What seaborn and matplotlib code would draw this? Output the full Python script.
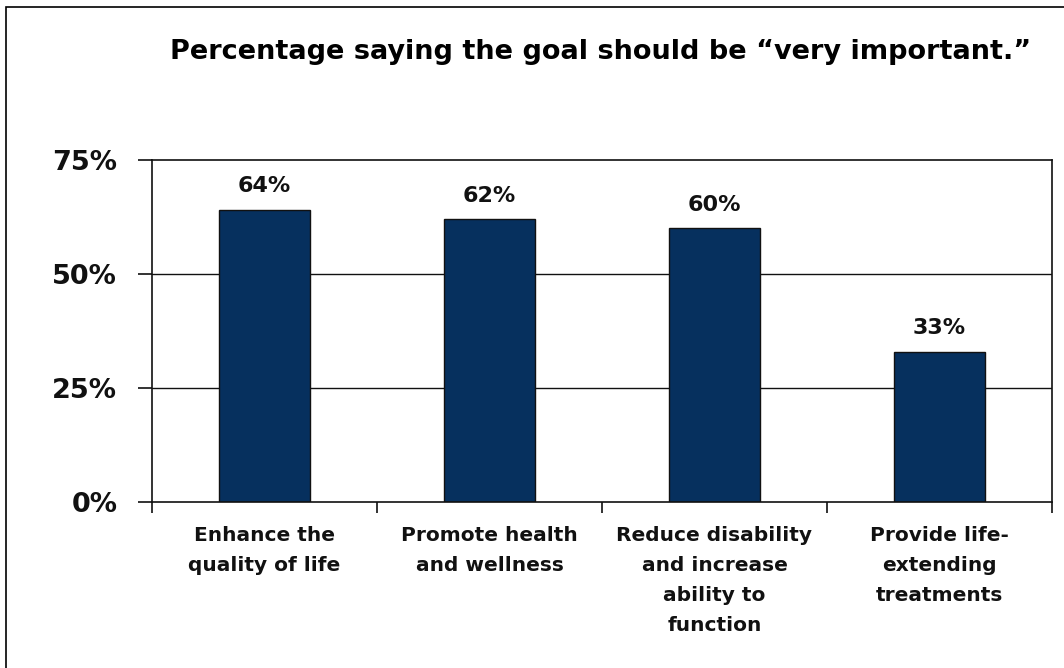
import matplotlib
matplotlib.use("Agg")
import matplotlib.pyplot as plt
import seaborn as sns
import pandas as pd
from matplotlib.patches import Rectangle
from matplotlib.ticker import FuncFormatter

categories = [
    "Enhance the\nquality of life",
    "Promote health\nand wellness",
    "Reduce disability\nand increase\nability to\nfunction",
    "Provide life-\nextending\ntreatments",
]
values = [64, 62, 60, 33]
y_ticks = [0, 25, 50, 75]
title = "Percentage saying the goal should be \u201cvery important.\u201d"

sns.set_theme(style="white")
plt.rcParams["font.family"] = ["DejaVu Sans"]

df = pd.DataFrame({"goal": categories, "pct": values})

fig = plt.figure(figsize=(10.64, 6.68), dpi=100)
ax = fig.add_axes([152 / 1064, 1 - 502 / 668, 900 / 1064, 342 / 668])

sns.barplot(data=df, x="goal", y="pct", ax=ax, color="#06305E",
            width=0.405, edgecolor="#111111", linewidth=1.0, saturation=1)

ax.set_ylim(0, 75)
ax.set_xlim(-0.5, len(categories) - 0.5)
ax.set_yticks(y_ticks)
ax.yaxis.set_major_formatter(FuncFormatter(lambda v, p: f"{v:.0f}%"))
for v in y_ticks[1:-1]:
    ax.axhline(v, color="#111111", linewidth=1.0, zorder=0)

ax.set_xlabel("")
ax.set_ylabel("")
for s in ax.spines.values():
    s.set_visible(True)
    s.set_color("#111111")
    s.set_linewidth(1.2)

# category separators as x ticks
ax.set_xticks([i + 0.5 for i in range(-1, len(categories))], minor=True)
ax.set_xticks(range(len(categories)))
ax.set_xticklabels(categories, fontsize=14.5, fontweight="bold", linespacing=1.75,
                   color="#111111", va="top")
ax.tick_params(axis="x", which="major", length=0, pad=17)
ax.tick_params(axis="x", which="minor", length=8, width=1.2, color="#111111",
               direction="out", bottom=True)
ax.tick_params(axis="y", length=10, width=1.2, color="#111111", direction="out",
               left=True, pad=15, labelsize=19.5, labelcolor="#111111")
for lab in ax.get_yticklabels():
    lab.set_fontweight("bold")

for i, v in enumerate(values):
    ax.text(i, v + 3.0, f"{v}%", ha="center", va="bottom", fontsize=16,
            fontweight="bold", color="#111111")

fig.text(601 / 1064, 1 - 52 / 668, title, ha="center", va="center",
         fontsize=19.5, fontweight="bold", color="#000000")

# outer frame around the slide
fig.patches.append(Rectangle((6 / 1064, -0.1), 1.2, 1 - 7 / 668 + 0.1,
                             transform=fig.transFigure, fill=False,
                             edgecolor="#000000", linewidth=1.2))

fig.savefig("out.png", dpi=100)
